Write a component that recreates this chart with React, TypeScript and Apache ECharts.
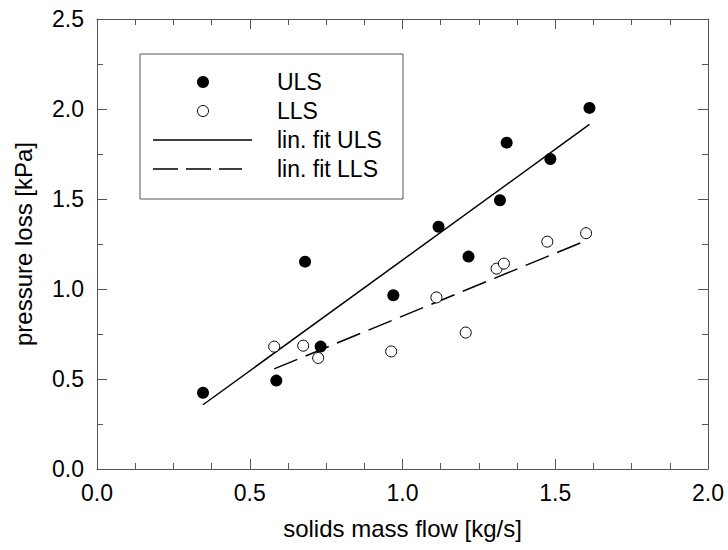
import React, { useEffect, useRef } from "react";
import * as echarts from "echarts";

const ulsX = [0.347, 0.587, 0.681, 0.732, 0.97, 1.118, 1.216, 1.319, 1.341, 1.484, 1.612];
const ulsY = [0.424, 0.491, 1.152, 0.68, 0.965, 1.346, 1.18, 1.493, 1.813, 1.722, 2.006];
const llsX = [0.58, 0.675, 0.724, 0.963, 1.111, 1.207, 1.308, 1.332, 1.474, 1.601];
const llsY = [0.68, 0.685, 0.617, 0.653, 0.953, 0.758, 1.113, 1.141, 1.263, 1.31];
const fitUlsX = [0.347, 1.612];
const fitUlsY = [0.357, 1.914];
const fitLlsX = [0.58, 1.605];
const fitLlsY = [0.556, 1.272];
const legendLabels = ["ULS", "LLS", "lin. fit ULS", "lin. fit LLS"];
const xTitle = "solids mass flow [kg/s]";
const yTitle = "pressure loss [kPa]";

const FONT = "'Liberation Sans', Arial, sans-serif";
const FRAME = "#555";

const pairs = (xs: number[], ys: number[]) => xs.map((x, i) => [x, ys[i]]);

export default function App() {
  const ref = useRef<HTMLDivElement>(null);
  useEffect(() => {
    if (!ref.current) return;
    const chart = echarts.init(ref.current, null, { renderer: "svg" });
    const baseAxis = {
      type: "value" as const,
      axisLine: { show: true, onZero: false, lineStyle: { color: FRAME, width: 1 } },
      axisTick: { show: true, inside: true, length: 10, lineStyle: { color: FRAME, width: 1 } },
      minorTick: { show: true, length: 6, lineStyle: { color: FRAME, width: 1 } },
      splitLine: { show: false },
      minorSplitLine: { show: false },
    };
    const legendX = 140, legendY = 54, rowH = 29;
    const legendGraphics: any[] = [
      { type: "rect", shape: { x: legendX, y: legendY, width: 263, height: 145 }, style: { fill: "none", stroke: FRAME, lineWidth: 1 }, z: 10 },
      { type: "circle", shape: { cx: 203, cy: legendY + 28, r: 6 }, style: { fill: "#000" }, z: 10 },
      { type: "circle", shape: { cx: 203, cy: legendY + 28 + rowH, r: 5.5 }, style: { fill: "#fff", stroke: "#000", lineWidth: 1 }, z: 10 },
      { type: "line", shape: { x1: 153, y1: legendY + 28 + 2 * rowH, x2: 252, y2: legendY + 28 + 2 * rowH }, style: { stroke: "#000", lineWidth: 1.5 }, z: 10 },
      { type: "line", shape: { x1: 153, y1: legendY + 28 + 3 * rowH, x2: 242, y2: legendY + 28 + 3 * rowH }, style: { stroke: "#000", lineWidth: 1.5, lineDash: [25, 8] }, z: 10 },
    ];
    legendLabels.forEach((t, i) => {
      legendGraphics.push({
        type: "text",
        x: 277,
        y: legendY + 28 + i * rowH,
        style: { text: t, fill: "#000", font: `23px ${FONT}`, textVerticalAlign: "middle", verticalAlign: "middle" },
        z: 10,
      });
    });
    chart.setOption({
      animation: false,
      backgroundColor: "#fff",
      grid: { left: 97, right: 20, top: 19, bottom: 81, containLabel: false },
      xAxis: [
        {
          ...baseAxis,
          min: 0,
          max: 2,
          interval: 0.5,
          position: "bottom",
          minorTick: { ...baseAxis.minorTick, splitNumber: 4 },
          axisLabel: { fontSize: 23, color: "#000", fontFamily: FONT, margin: 12, formatter: (v: number) => v.toFixed(1) },
          name: xTitle,
          nameLocation: "middle",
          nameGap: 47,
          nameTextStyle: { fontSize: 24, color: "#000", fontFamily: FONT },
        },
        {
          ...baseAxis,
          min: 0,
          max: 2,
          interval: 0.5,
          position: "top",
          minorTick: { ...baseAxis.minorTick, splitNumber: 4 },
          axisLabel: { show: false },
        },
      ],
      yAxis: [
        {
          ...baseAxis,
          min: 0,
          max: 2.5,
          interval: 0.5,
          position: "left",
          minorTick: { ...baseAxis.minorTick, splitNumber: 2 },
          axisLabel: { fontSize: 23, color: "#000", fontFamily: FONT, margin: 13, formatter: (v: number) => v.toFixed(1) },
          name: yTitle,
          nameLocation: "middle",
          nameGap: 62,
          nameTextStyle: { fontSize: 24, color: "#000", fontFamily: FONT },
        },
        {
          ...baseAxis,
          min: 0,
          max: 2.5,
          interval: 0.5,
          position: "right",
          minorTick: { ...baseAxis.minorTick, splitNumber: 2 },
          axisLabel: { show: false },
        },
      ],
      series: [
        {
          name: "lin. fit ULS",
          type: "line",
          data: pairs(fitUlsX, fitUlsY),
          symbol: "none",
          lineStyle: { color: "#000", width: 1.5 },
          z: 2,
        },
        {
          name: "lin. fit LLS",
          type: "line",
          data: pairs(fitLlsX, fitLlsY),
          symbol: "none",
          lineStyle: { color: "#000", width: 1.5, type: [25, 9] },
          z: 2,
        },
        {
          name: "ULS",
          type: "scatter",
          data: pairs(ulsX, ulsY),
          symbol: "circle",
          symbolSize: 12,
          itemStyle: { color: "#000", opacity: 1 },
          z: 3,
        },
        {
          name: "LLS",
          type: "scatter",
          data: pairs(llsX, llsY),
          symbol: "circle",
          symbolSize: 11,
          itemStyle: { color: "#fff", borderColor: "#000", borderWidth: 1, opacity: 1 },
          z: 3,
        },
      ],
      graphic: legendGraphics,
    });
    return () => chart.dispose();
  }, []);
  return <div ref={ref} style={{ width: 728, height: 550, position: "absolute", left: 0, top: 0 }} />;
}
